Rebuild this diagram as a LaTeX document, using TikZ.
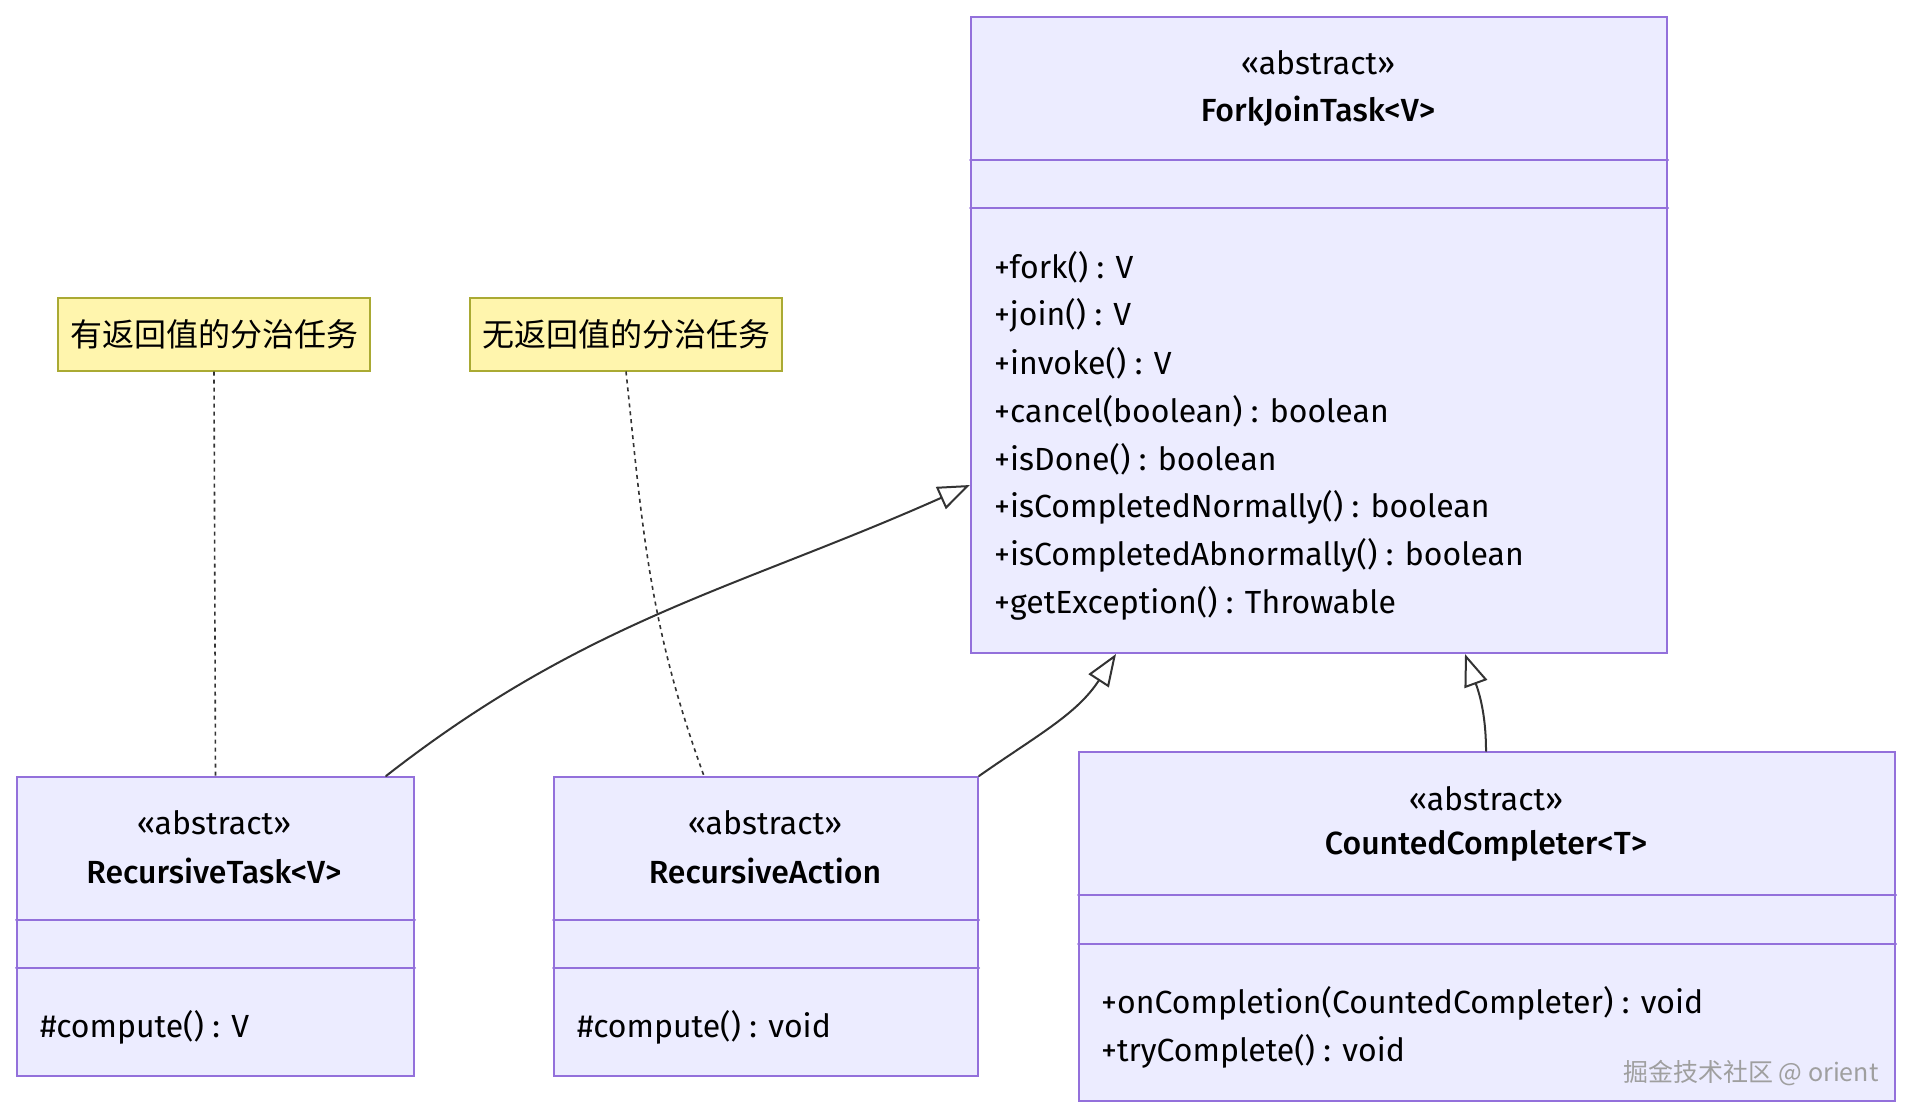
\documentclass[tikz,border=0pt]{standalone}
\usepackage{fontspec}
\setmainfont{Fira Sans}[BoldFont={Fira Sans Medium}]
\newfontfamily\cjk{Noto Sans CJK SC}
\usepackage{tikz}
\usetikzlibrary{calc,arrows.meta}
\definecolor{boxfill}{HTML}{ECECFF}
\definecolor{boxline}{HTML}{9370DB}
\definecolor{notefill}{HTML}{FFF5AD}
\definecolor{noteedge}{HTML}{AAAA33}
\definecolor{edgeline}{HTML}{333333}

\begin{document}
\begin{tikzpicture}[
  x=1pt, y=-1pt,
  >={Triangle[open,length=32pt,width=24pt,line width=2pt]},
  line cap=round,
  classbox/.style={draw=boxline, fill=boxfill, line width=2pt, anchor=north west, inner sep=0pt},
  divider/.style={draw=boxline, line width=2pt},
  notebox/.style={draw=noteedge, fill=notefill, line width=2pt, minimum width=312pt, minimum height=73pt, inner sep=0pt, font=\cjk\fontsize{32}{38}\selectfont},
  inherit/.style={->, draw=edgeline, line width=2pt},
  noteline/.style={draw=edgeline, line width=1.6pt, dash pattern=on 4pt off 4pt, line cap=butt},
  lbl/.style={font=\fontsize{32}{38}\selectfont, text=black, inner sep=0pt},
  cname/.style={lbl, font=\bfseries\fontsize{32}{38}\selectfont},
  member/.style={lbl, anchor=west}
]
\useasboundingbox (0,0) rectangle (1910,1116);

%========== ForkJoinTask<V> ==========
\node[classbox, minimum width=696pt, minimum height=636pt] (fjt) at (970,16) {};
\draw[divider] (fjt.west |- 0,160) -- (fjt.east |- 0,160);
\draw[divider] (fjt.west |- 0,208) -- (fjt.east |- 0,208);
\node[lbl] (fjt-st) at (1318,63) {«abstract»};
\node[cname] (fjt-name) at (1318,111) {ForkJoinTask<V>};
\foreach \m [count=\i] in {+fork() : V, +join() : V, +invoke() : V,
    +cancel(boolean) : boolean, +isDone() : boolean,
    +isCompletedNormally() : boolean, +isCompletedAbnormally() : boolean,
    +getException() : Throwable}{
  \node[member] (fjt-m\i) at (994,219+48*\i) {\m};
}

%========== notes ==========
\node[notebox] (note1) at (214,334) {有返回值的分治任务};
\node[notebox] (note2) at (626,334) {无返回值的分治任务};

%========== RecursiveTask<V> ==========
\node[classbox, minimum width=397pt, minimum height=299pt] (rtask) at (16,776) {};
\draw[divider] (rtask.west |- 0,920) -- (rtask.east |- 0,920);
\draw[divider] (rtask.west |- 0,968) -- (rtask.east |- 0,968);
\node[lbl] (rtask-st) at (214,823) {«abstract»};
\node[cname] (rtask-name) at (214,871) {RecursiveTask<V>};
\node[member] (rtask-m1) at (40,1027) {\#compute() : V};

%========== RecursiveAction ==========
\node[classbox, minimum width=424pt, minimum height=299pt] (raction) at (553,776) {};
\draw[divider] (raction.west |- 0,920) -- (raction.east |- 0,920);
\draw[divider] (raction.west |- 0,968) -- (raction.east |- 0,968);
\node[lbl] (raction-st) at (765,823) {«abstract»};
\node[cname] (raction-name) at (765,871) {RecursiveAction};
\node[member] (raction-m1) at (577,1027) {\#compute() : void};

%========== CountedCompleter<T> ==========
\node[classbox, minimum width=816pt, minimum height=349pt] (cc) at (1078,751) {};
\draw[divider] (cc.west |- 0,895) -- (cc.east |- 0,895);
\draw[divider] (cc.west |- 0,944) -- (cc.east |- 0,944);
\node[lbl] (cc-st) at (1486,799) {«abstract»};
\node[cname] (cc-name) at (1486,846) {CountedCompleter<T>};
\node[member] (cc-m1) at (1101,1003) {+onCompletion(CountedCompleter) : void};
\node[member] (cc-m2) at (1101,1051) {+tryComplete() : void};

%========== connectors ==========
\coordinate (rtask-top) at ($(rtask.north west)+(370,0)$);
\coordinate (raction-top) at ($(raction.north west)+(151,0)$);
\coordinate (cc-top) at ($(cc.north west)+(408,0)$);
\coordinate (fjt-left) at ($(fjt.north west)+(0,469)$);
\coordinate (fjt-bot1) at ($(fjt.south west)+(146,0)$);
\coordinate (fjt-bot2) at ($(fjt.south west)+(495,0)$);
\draw[inherit] (rtask-top) to[out=38,in=204] (fjt-left);
\draw[inherit] (raction.north east) to[out=35,in=237] (fjt-bot1);
\draw[inherit] (cc-top) to[out=90,in=-70] (fjt-bot2);
\draw[noteline] (note1.south) -- (rtask.north);
\draw[noteline] (note2.south) to[out=-84,in=110] (raction-top);

% watermark
\node[anchor=east, text=gray!75, font=\cjk\fontsize{25}{30}\selectfont] (mark) at (1882,1073) {掘金技术社区 @ orient};
\end{tikzpicture}
\end{document}
